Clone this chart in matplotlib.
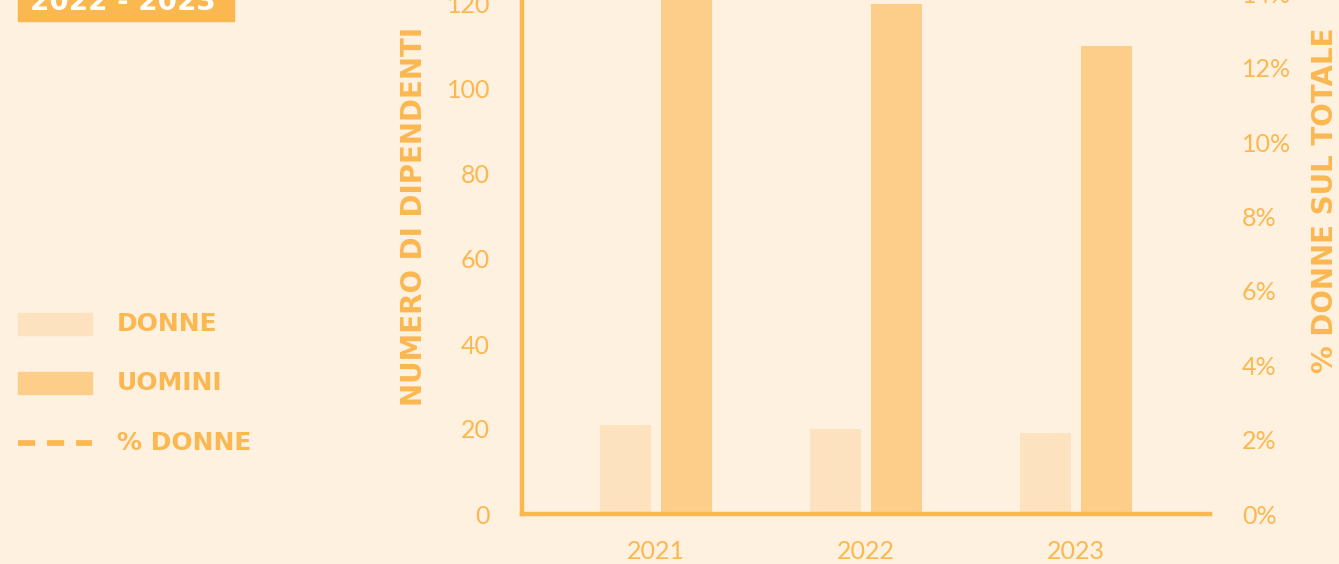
import numpy as np
import matplotlib.pyplot as plt

BG = '#FEF1E0'
ORANGE = '#FBB851'
C_DONNE = '#FCE2BF'
C_UOMINI = '#FDCE8A'

anni = ['2021', '2022', '2023']
donne = [21, 20, 19]
uomini = [124, 120, 110]
pct_donne = [0.145, 0.143, 0.147]

left_ticks = [0, 20, 40, 60, 80, 100, 120]
right_ticks = [0, 0.02, 0.04, 0.06, 0.08, 0.10, 0.12, 0.14]

W, H = 1339, 564
fig = plt.figure(figsize=(W / 100, H / 100), dpi=100, facecolor=BG)


def px(x, y):
    # pixel position (from top-left) -> figure fraction
    return x / W, 1 - y / H


# the plot area runs past the top edge of the canvas
ax = fig.add_axes([522 / W, 50 / H, 688 / W, 595 / H])
ax.set_facecolor(BG)
ax2 = ax.twinx()

x = np.arange(len(anni))
bw = 0.243
off = 0.146
ax.bar(x - off, donne, bw, color=C_DONNE, zorder=2)
ax.bar(x + off, uomini, bw, color=C_UOMINI, zorder=2)
ax2.plot(x, pct_donne, color=ORANGE, lw=4, ls=(0, (3, 2)))

ax.set_xlim(-0.637, 2.637)
ax.set_ylim(0, 140)
ax2.set_ylim(0, 0.16)

ax.set_xticks(x)
ax.set_xticklabels(anni)
ax.set_yticks(left_ticks)
ax2.set_yticks(right_ticks)
ax2.set_yticklabels(['%d%%' % round(t * 100) for t in right_ticks])

for lab in ax.get_xticklabels() + ax.get_yticklabels() + ax2.get_yticklabels():
    lab.set_fontfamily('Lato')
    lab.set_fontsize(18)
    lab.set_color(ORANGE)
ax.tick_params(axis='both', length=0)
ax.tick_params(axis='x', pad=19)
ax.tick_params(axis='y', pad=23)
ax2.tick_params(axis='y', length=0, pad=23)

for a in (ax, ax2):
    for s in ('top', 'right'):
        a.spines[s].set_visible(False)
ax2.spines['left'].set_visible(False)
ax2.spines['bottom'].set_visible(False)
for s in ('left', 'bottom'):
    ax.spines[s].set_color(ORANGE)
    ax.spines[s].set_linewidth(3.2)
    ax.spines[s].set_zorder(3)

bold = dict(family='DejaVu Sans', weight='bold', color=ORANGE)
fig.text(*px(414, 216), 'NUMERO DI DIPENDENTI', rotation=90, ha='center', va='center',
         fontsize=20, **bold)
fig.text(*px(1325, 200), '% DONNE SUL TOTALE', rotation=90, ha='center', va='center',
         fontsize=20, **bold)

# period badge at the top left
badge = plt.Rectangle(px(18, 21), 216 / W, 40 / H, transform=fig.transFigure,
                      color=ORANGE, clip_on=False)
fig.add_artist(badge)
fig.text(*px(30, 10), '2022 - 2023', ha='left', va='baseline', fontsize=20,
         family='DejaVu Sans', weight='bold', color='white')

# legend
for y, c in ((324, C_DONNE), (383, C_UOMINI)):
    fig.add_artist(plt.Rectangle(px(18, y + 11), 74 / W, 22 / H,
                                 transform=fig.transFigure, color=c))
fig.add_artist(plt.Line2D([18 / W, 92 / W], [px(0, 443)[1]] * 2, transform=fig.transFigure,
                          color=ORANGE, lw=4.1, ls=(0, (3.0, 2.1)), solid_capstyle='butt',
                          dash_capstyle='butt'))
for y, t in ((324, 'DONNE'), (383, 'UOMINI'), (443, '% DONNE')):
    fig.text(*px(117, y), t, ha='left', va='center', fontsize=18, **bold)

fig.savefig('out.png', dpi=100, facecolor=BG)
